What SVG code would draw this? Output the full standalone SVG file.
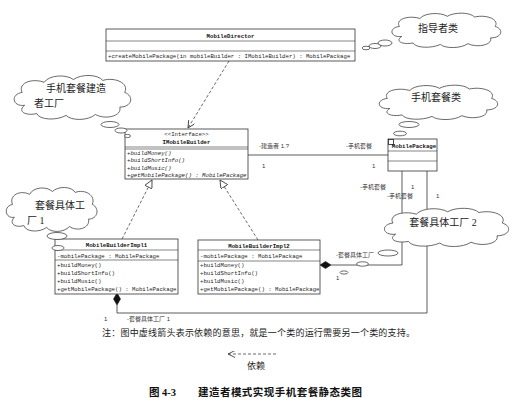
<svg xmlns="http://www.w3.org/2000/svg" xmlns:xlink="http://www.w3.org/1999/xlink" width="516" height="404" viewBox="0 0 516 404">
<style>
  .box { fill: #fff; stroke: #333; stroke-width: 0.8; }
  .sep { stroke: #333; stroke-width: 0.6; }
  .ln { fill: none; stroke: #333; stroke-width: 0.8; }
  .dash { fill: none; stroke: #444; stroke-width: 0.8; stroke-dasharray: 3 2; }
  .uml { font-family: "Liberation Mono", "DejaVu Sans Mono", monospace; font-size: 5.7px; fill: #222; }
  .umlb { font-family: "Liberation Mono", "DejaVu Sans Mono", monospace; font-size: 5.7px; font-weight: bold; fill: #111; }
  .it { font-style: italic; }
  .lbl { font-family: "Liberation Sans", "Noto Sans CJK SC", sans-serif; font-size: 6px; fill: #333; }
  .cl { font-family: "Liberation Serif", "Noto Sans CJK SC", serif; font-size: 10px; fill: #222; }
  .note { font-family: "Liberation Serif", "Noto Sans CJK SC", serif; font-size: 9px; fill: #222; }
  .cap { font-family: "Liberation Serif", "Noto Sans CJK SC", serif; font-size: 10.5px; font-weight: bold; fill: #111; }
  .cpath { fill: #fff; stroke: #444; stroke-width: 0.8; }
  .bub { fill: #fff; stroke: #444; stroke-width: 0.8; }
</style>
<defs>
  <symbol id="cloud" viewBox="0 0 100 50" preserveAspectRatio="none">
    <path class="cpath" vector-effect="non-scaling-stroke" d="M12,34 C2,36 0,22 10,20 C6,10 18,4 28,9 C32,1 46,0 52,6 C58,0 72,0 76,7 C86,3 98,10 94,20 C102,24 100,36 90,36 C92,46 78,50 70,44 C64,51 50,51 46,45 C38,51 24,50 22,43 C12,46 6,40 12,34 Z"/>
  </symbol>
  <marker id="open" viewBox="0 0 10 10" refX="10" refY="5" markerUnits="userSpaceOnUse" markerWidth="8" markerHeight="7" orient="auto">
    <path d="M0,0 L10,5 L0,10" fill="none" stroke="#333" stroke-width="1.2"/>
  </marker>
  <marker id="tri" viewBox="0 0 10 10" refX="10" refY="5" markerUnits="userSpaceOnUse" markerWidth="9" markerHeight="8" orient="auto">
    <path d="M0,0 L10,5 L0,10 Z" fill="#fff" stroke="#333" stroke-width="1"/>
  </marker>
</defs>
<rect width="516" height="404" fill="#fff"/>

<g id="connectors">
  <line class="dash" x1="229" y1="61" x2="188" y2="128" marker-end="url(#open)"/>
  <line class="dash" x1="122" y1="239" x2="152" y2="180" marker-end="url(#tri)"/>
  <line class="dash" x1="258" y1="240" x2="220" y2="180" marker-end="url(#tri)"/>
  <line class="ln" x1="248" y1="155" x2="388" y2="155"/>
  <path class="ln" d="M402,171 V265 H331"/>
  <polygon points="320,265 325.5,261.5 331,265 325.5,268.5" fill="#111" stroke="#111" stroke-width="0.6"/>
  <path class="ln" d="M427,171 V313 H117 V305"/>
  <polygon points="117,293 120.5,299 117,305 113.5,299" fill="#111" stroke="#111" stroke-width="0.6"/>
  <text class="lbl" x="259" y="148">-建造者 1.?</text>
  <text class="lbl" x="262" y="168">1</text>
  <text class="lbl" x="346" y="148">-手机套餐</text>
  <text class="lbl" x="372" y="168">1</text>
  <text class="lbl" x="360" y="189">-手机套餐</text>
  <text class="lbl" x="411" y="189">1</text>
  <text class="lbl" x="387" y="198">-手机套餐</text>
  <text class="lbl" x="436" y="198">1</text>
  <text class="lbl" x="336" y="257">-套餐具体工厂</text>
  <text class="lbl" x="336" y="280">1</text>
  <text class="lbl" x="104" y="321">1</text>
  <text class="lbl" x="127" y="321">-套餐具体工厂 1</text>
</g>

<g id="MobileDirector">
  <rect class="box" x="106" y="29" width="249" height="32"/>
  <line class="sep" x1="106" y1="41" x2="355" y2="41"/>
  <line class="sep" x1="106" y1="51" x2="355" y2="51"/>
  <text class="umlb" x="230.5" y="37.5" text-anchor="middle">MobileDirector</text>
  <text class="uml" x="108" y="58">+createMobilePackage(in mobileBuilder : IMobileBuilder) : MobilePackage</text>
</g>

<g id="IMobileBuilder">
  <rect class="box" x="125" y="129" width="123" height="50"/>
  <line class="sep" x1="125" y1="147" x2="248" y2="147"/>
  <line class="sep" x1="125" y1="149" x2="248" y2="149"/>
  <text class="uml" x="186.5" y="135.5" text-anchor="middle">&lt;&lt;Interface&gt;&gt;</text>
  <text class="umlb" x="186.5" y="144" text-anchor="middle">IMobileBuilder</text>
  <text class="uml it" x="127" y="155">+buildMoney()</text>
  <text class="uml it" x="127" y="162">+buildShortInfo()</text>
  <text class="uml it" x="127" y="169.5">+buildMusic()</text>
  <text class="uml it" x="127" y="177">+getMobilePackage() : MobilePackage</text>
</g>

<g id="MobilePackage">
  <rect class="box" x="388" y="139" width="49" height="32"/>
  <line class="sep" x1="388" y1="151" x2="437" y2="151"/>
  <line class="sep" x1="388" y1="161" x2="437" y2="161"/>
  <rect x="388.5" y="139.5" width="5" height="5" fill="#fff" stroke="#222" stroke-width="0.8"/>
  <text class="umlb" x="414" y="147.5" text-anchor="middle" font-size="5.3">MobilePackage</text>
</g>

<g id="MobileBuilderImpl1">
  <rect class="box" x="55" y="239" width="123" height="55"/>
  <line class="sep" x1="55" y1="250" x2="178" y2="250"/>
  <line class="sep" x1="55" y1="260" x2="178" y2="260"/>
  <text class="umlb" x="116.5" y="247" text-anchor="middle">MobileBuilderImpl1</text>
  <text class="uml" x="57" y="257.5">-mobilePackage : MobilePackage</text>
  <text class="uml" x="57" y="267">+buildMoney()</text>
  <text class="uml" x="57" y="275">+buildShortInfo()</text>
  <text class="uml" x="57" y="283">+buildMusic()</text>
  <text class="uml" x="57" y="291">+getMobilePackage() : MobilePackage</text>
</g>

<g id="MobileBuilderImpl2">
  <rect class="box" x="198" y="240" width="122" height="54"/>
  <line class="sep" x1="198" y1="250" x2="320" y2="250"/>
  <line class="sep" x1="198" y1="261" x2="320" y2="261"/>
  <text class="umlb" x="259" y="247.5" text-anchor="middle">MobileBuilderImpl2</text>
  <text class="uml" x="200" y="257.5">-mobilePackage : MobilePackage</text>
  <text class="uml" x="200" y="267">+buildMoney()</text>
  <text class="uml" x="200" y="275">+buildShortInfo()</text>
  <text class="uml" x="200" y="283">+buildMusic()</text>
  <text class="uml" x="200" y="291">+getMobilePackage() : MobilePackage</text>
</g>

<g id="note-director">
  <ellipse class="bub" cx="366" cy="48" rx="4" ry="1.8"/>
  <ellipse class="bub" cx="375" cy="46" rx="6" ry="2.5"/>
  <ellipse class="bub" cx="385" cy="43" rx="7" ry="3"/>
  <use xlink:href="#cloud" x="388" y="12" width="114" height="36"/>
  <text class="cl" x="438" y="32" text-anchor="middle" font-size="8.5">指导者类</text>
</g>

<g id="note-builder">
  <use xlink:href="#cloud" x="10" y="74" width="122" height="46"/>
  <text class="cl" x="46" y="92" font-size="10.5">手机套餐建造</text>
  <text class="cl" x="34" y="107" font-size="10.5">者工厂</text>
  <ellipse class="bub" cx="110" cy="124.5" rx="9" ry="3"/>
  <ellipse class="bub" cx="121" cy="130.5" rx="6" ry="2.5"/>
  <ellipse class="bub" cx="127.5" cy="136" rx="3" ry="1.6"/>
</g>

<g id="note-package">
  <use xlink:href="#cloud" x="375" y="84" width="124" height="36"/>
  <text class="cl" x="436" y="101" text-anchor="middle">手机套餐类</text>
  <ellipse class="bub" cx="409" cy="124.5" rx="10" ry="3"/>
  <ellipse class="bub" cx="400" cy="133.5" rx="6.5" ry="2.3"/>
</g>

<g id="note-impl1">
  <use xlink:href="#cloud" x="3" y="186" width="95" height="46"/>
  <text class="cl" x="35" y="209" font-size="11">套餐具体工</text>
  <text class="cl" x="27" y="224" font-size="11">厂 1</text>
  <ellipse class="bub" cx="57" cy="236" rx="10" ry="3.5"/>
  <ellipse class="bub" cx="58" cy="248" rx="6" ry="2.5"/>
</g>

<g id="note-impl2">
  <use xlink:href="#cloud" x="380" y="207" width="130" height="40"/>
  <text class="cl" x="443" y="226" text-anchor="middle" font-size="10.5">套餐具体工厂 2</text>
  <ellipse class="bub" cx="388" cy="253" rx="10" ry="3"/>
  <ellipse class="bub" cx="362.5" cy="264" rx="6" ry="2.2"/>
  <ellipse class="bub" cx="344" cy="272.5" rx="4" ry="1.6"/>
</g>

<g id="legend">
  <text class="note" x="102" y="336" textLength="313" lengthAdjust="spacing">注：图中虚线箭头表示依赖的意思，就是一个类的运行需要另一个类的支持。</text>
  <line class="dash" x1="276" y1="354" x2="228" y2="354" marker-end="url(#open)"/>
  <text class="note" x="256" y="369" text-anchor="middle">依赖</text>
  <text class="cap" x="149" y="396" font-size="11.5">图 4-3</text>
  <text class="cap" x="198" y="396" textLength="164" lengthAdjust="spacing">建造者模式实现手机套餐静态类图</text>
</g>
</svg>
